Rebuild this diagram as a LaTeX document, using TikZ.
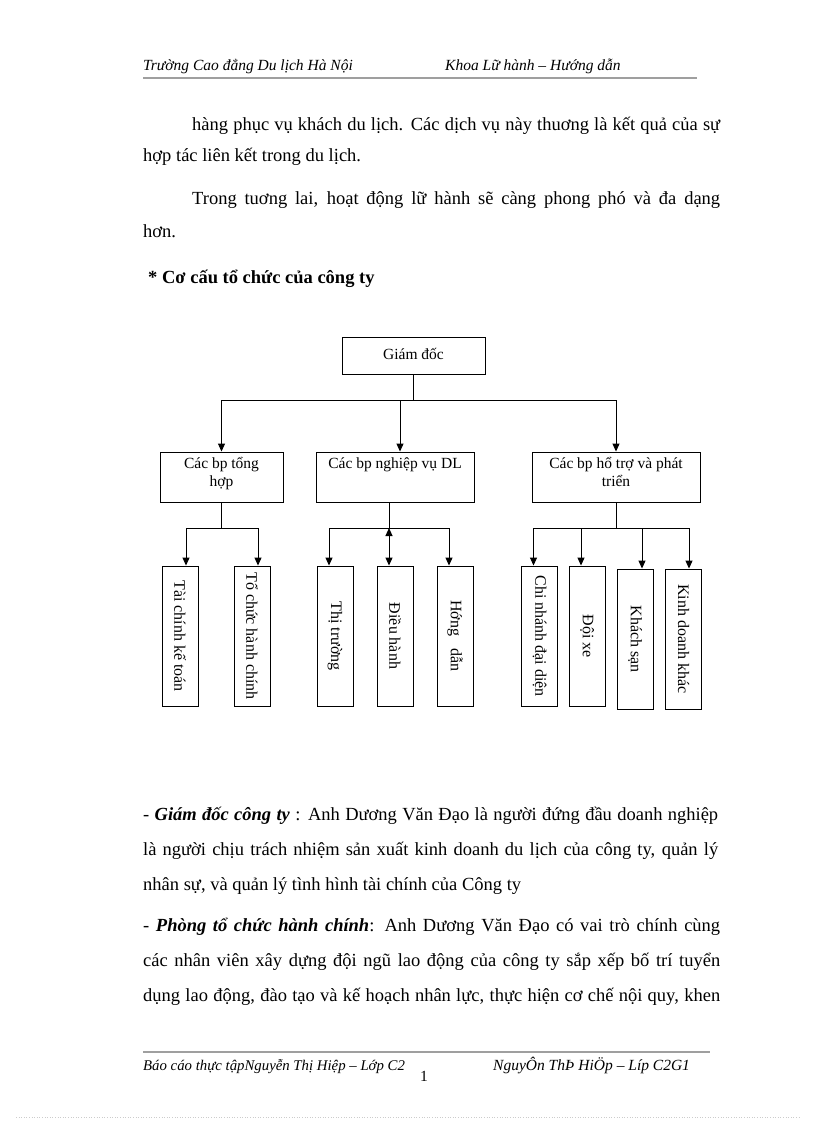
\documentclass[tikz,border=0pt]{standalone}
\usepackage{fontspec}
\usepackage{graphicx}
\setmainfont{Liberation Serif}
\usetikzlibrary{arrows.meta}

\begin{document}
\begin{tikzpicture}[x=1pt,y=-1pt,
  txt/.style={anchor=base west,inner sep=0pt,font=\fontsize{18.5}{22}\selectfont},
  hdr/.style={anchor=base west,inner sep=0pt,font=\fontsize{15.5}{18}\selectfont\itshape},
  box/.style={draw,line width=0.9pt,inner sep=4pt,font=\fontsize{15.5}{18}\selectfont},
  leaf/.style={box,inner sep=0pt,minimum width=36pt,minimum height=140pt,font=\fontsize{16}{18}\selectfont},
  lnk/.style={line width=1pt},
  arr/.style={lnk,-{Triangle[length=8pt,width=7pt]}},
  dbl/.style={lnk,{Triangle[length=8pt,width=7pt]}-{Triangle[length=8pt,width=7pt]}}]
  \useasboundingbox (0,0) rectangle (816,1123);

  % header
  \node[hdr] (hleft) at (143,71) {Trường Cao đẳng Du lịch Hà Nội};
  \node[hdr] (hright) at (445,71) {Khoa Lữ hành – Hướng dẫn};
  \draw[gray!75,line width=2pt] (143,78) -- (697,78);

  % text above the chart
  \node[txt] (l1) at (192,131) {\makebox[528pt][s]{hàng phục vụ khách du lịch.  Các dịch vụ này thuơng là kết quả của sự}};
  \node[txt] (l2) at (143,162) {hợp tác liên kết trong du lịch.};
  \node[txt] (l3) at (192,205) {\makebox[528pt][s]{Trong tuơng lai,  hoạt động lữ hành sẽ càng phong phó và đa dạng}};
  \node[txt] (l4) at (143,237) {hơn.};
  \node[txt,font=\fontsize{18.5}{22}\selectfont\bfseries] (l5) at (148,283) {* Cơ cấu tổ chức của công ty};

  % chart
  \node[box,minimum width=143pt,minimum height=37pt] (gd) at (413.5,355.5) {\raisebox{3pt}{Giám đốc}};
  \node[box,minimum width=119pt,minimum height=50pt] (tonghop) at (221.5,477)
    {\parbox[c][42pt][t]{115pt}{\centering\strut Các bp tổng\\hợp}};
  \node[box,minimum width=156pt,minimum height=50pt] (nghiepvu) at (395,477)
    {\parbox[c][42pt][t]{150pt}{\centering\strut Các bp nghiệp vụ DL}};
  \node[box,minimum width=168pt,minimum height=50pt] (hotro) at (616,477)
    {\parbox[c][42pt][t]{160pt}{\centering\strut Các bp hổ trợ và phát\\triển}};

  \coordinate (bus0) at (0,400);
  \coordinate (bus1) at (0,528);
  \coordinate (bus2) at (0,528);
  \coordinate (bus3) at (0,528);

  \draw[lnk] (gd.south) -- (gd.south |- bus0);
  \draw[lnk] (tonghop.north |- bus0) -- (hotro.north |- bus0);
  \coordinate (nghiepvu-in) at ([xshift=5pt]nghiepvu.north);
  \coordinate (nghiepvu-out) at ([xshift=-6pt]nghiepvu.south);
  \draw[arr] (tonghop.north |- bus0) -- (tonghop.north);
  \draw[arr] (nghiepvu-in |- bus0) -- (nghiepvu-in);
  \draw[arr] (hotro.north |- bus0) -- (hotro.north);

  \draw[lnk] (tonghop.south) -- (tonghop.south |- bus1);
  \draw[lnk] (nghiepvu-out) -- (nghiepvu-out |- bus2);
  \draw[lnk] (hotro.south) -- (hotro.south |- bus3);

  \foreach \n/\cx/\cy/\dx/\bus/\a/\t in {
      taichinh/180/636/6/bus1/arr/Tài chính kế toán,
      tochuc/252/636/6/bus1/arr/Tổ chức hành chính,
      thitruong/335/636/-6/bus2/arr/Thị trường,
      dieuhanh/395/636/-6/bus2/dbl/Điều hành,
      huongdan/455/636/-6/bus2/arr/Hớng\ \ \ dẫn,
      chinhanh/539.5/636/-6/bus3/arr/Chi nhánh đại diện,
      doixe/587/636/-6/bus3/arr/Đội xe,
      khachsan/635/639/7/bus3/arr/Khách sạn,
      kinhdoanh/683.5/639/5.5/bus3/arr/Kinh doanh khác}{
    \node[leaf] (\n) at (\cx,\cy) {\rotatebox{-90}{\t}};
    \coordinate (\n-in) at ([xshift=\dx pt]\n.north);
    \draw[\a] (\n-in |- \bus) -- (\n-in);
  }
  \draw[lnk] (taichinh-in |- bus1) -- (tochuc-in |- bus1);
  \draw[lnk] (thitruong-in |- bus2) -- (huongdan-in |- bus2);
  \draw[lnk] (chinhanh-in |- bus3) -- (kinhdoanh-in |- bus3);

  % text below the chart
  \node[txt] (p1) at (143,820) {\makebox[575pt][s]{- \textbf{\textit{Giám đốc công ty}} : Anh Dương Văn Đạo là người đứng đầu doanh nghiệp}};
  \node[txt] (p2) at (143,855) {\makebox[575pt][s]{là người  chịu trách nhiệm  sản xuất kinh  doanh du lịch của công ty, quản lý}};
  \node[txt] (p3) at (143,890) {nhân sự, và quản lý tình hình tài chính của Công ty};
  \node[txt] (p4) at (143,931) {\makebox[577pt][s]{- \textbf{\textit{Phòng tổ chức hành chính}}: Anh Dương Văn Đạo có vai trò chính cùng}};
  \node[txt] (p5) at (143,966) {\makebox[577pt][s]{các nhân viên xây dựng đội ngũ lao động của công ty sắp xếp bố trí tuyển}};
  \node[txt] (p6) at (143,1001) {\makebox[577pt][s]{dụng lao động, đào tạo và kế hoạch nhân lực, thực hiện cơ chế nội quy, khen}};

  % footer
  \draw[gray!75,line width=1.5pt] (143,1052) -- (710,1052);
  \node[hdr,font=\fontsize{14.8}{18}\selectfont\itshape] (fleft) at (143,1070) {Báo cáo thực tậpNguyễn Thị Hiệp – Lớp C2};
  \node[hdr] (fright) at (493,1070) {NguyÔn ThÞ HiÖp – Líp C2G1};
  \node[anchor=base,inner sep=0pt,font=\fontsize{15.5}{18}\selectfont] (page) at (424,1081) {1};
  \draw[gray!40,dotted,line width=0.6pt] (16,1117) -- (800,1117);
\end{tikzpicture}
\end{document}
